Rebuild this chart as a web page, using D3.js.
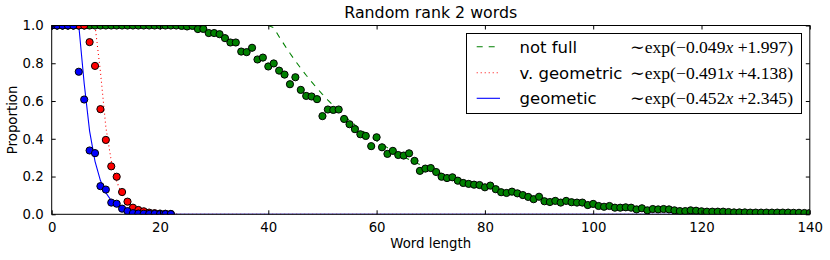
<!DOCTYPE html>
<html><head><meta charset="utf-8">
<script src="https://cdn.jsdelivr.net/npm/d3@7"></script>
<style>body{margin:0;background:#fff}svg{display:block}</style>
</head><body>
<svg id="chart" width="830" height="260"></svg>
<script>
// ---------- data ----------
const titleText = "Random rank 2 words";
const xLabelText = "Word length";
const yLabelText = "Proportion";
const xTicks = [0, 20, 40, 60, 80, 100, 120, 140];
const yTicks = [0.0, 0.2, 0.4, 0.6, 0.8, 1.0];

const seriesNames = ["not full", "v. geometric", "geometic"];
const seriesColors = ["#008000", "#ff0000", "#0000ff"];
const fitSlopes = [-0.049, -0.491, -0.452];
const fitIntercepts = [1.997, 4.138, 2.345];
const fitSlopeText = ["0.049", "0.491", "0.452"];
const fitInterceptText = ["1.997", "4.138", "2.345"];

// not full (green), word lengths 0..140
const greenLengths = d3.range(0, 141);
const greenValues = [
  1,1,1,1,1,1,1,1,1,1,1,1,1,1,1,1,1,1,1,1,1,1,1,1,
  0.998,0.995,0.998,0.981,0.982,0.960,0.960,0.954,0.933,0.910,
  0.910,0.862,0.859,0.882,0.820,0.830,0.783,0.799,0.761,0.740,
  0.689,0.726,0.659,0.627,0.624,0.610,0.520,0.555,0.553,0.555,
  0.505,0.477,0.451,0.424,0.415,0.361,0.408,0.355,0.320,0.336,
  0.314,0.311,0.323,0.283,0.230,0.242,0.245,0.224,0.199,0.192,
  0.196,0.178,0.166,0.161,0.157,0.155,0.143,0.152,0.133,0.117,
  0.113,0.120,0.111,0.102,0.092,0.080,0.093,0.069,0.065,0.071,
  0.062,0.071,0.064,0.062,0.062,0.049,0.055,0.044,0.040,0.044,
  0.035,0.035,0.037,0.035,0.026,0.032,0.021,0.028,0.026,0.028,
  0.026,0.021,0.017,0.017,0.021,0.019,0.016,0.014,0.014,0.014,
  0.014,0.012,0.010,0.010,0.010,0.009,0.009,0.009,0.009,0.009,
  0.009,0.009,0.009,0.008,0.008,0.007,0.007
];
// v. geometric (red), word lengths 0..22
const redLengths = d3.range(0, 23);
const redValues = [1,1,1,1,1,1,1,0.912,0.786,0.557,0.394,0.254,0.199,0.118,0.067,
  0.035,0.023,0.016,0.009,0.006,0.004,0.003,0.002];
// geometic (blue), word lengths 0..22
const blueLengths = d3.range(0, 23);
const blueValues = [1,1,1,1,1,0.755,0.608,0.338,0.324,0.149,0.131,0.062,0.056,0.030,
  0.017,0.006,0.004,0.003,0.002,0.002,0.001,0.001,0.001];
const fitLengths = d3.range(0, 141);

// ---------- layout ----------
const svg = d3.select("#chart");
const L = 51.7, R = 809.8, T = 25.5, B = 214.3;
const x = d3.scaleLinear().domain([0, 140]).range([L, R]);
const y = d3.scaleLinear().domain([0, 1]).range([B, T]);
const font = "'DejaVu Sans', sans-serif";

svg.append("defs").append("clipPath").attr("id", "clip")
  .append("rect").attr("x", L).attr("y", T).attr("width", R - L).attr("height", B - T);

const plot = svg.append("g").attr("clip-path", "url(#clip)");

// fit curves
const dashes = ["6,6", "1,3", null];
const line = d3.line().x(d => x(d[0])).y(d => y(d[1]));
seriesNames.forEach((n, i) => {
  const pts = fitLengths.map(v => [v, Math.min(1, Math.exp(fitSlopes[i] * v + fitIntercepts[i]))]);
  plot.append("path").attr("d", line(pts)).attr("fill", "none")
    .attr("stroke", seriesColors[i]).attr("stroke-width", 1.1)
    .attr("stroke-dasharray", dashes[i]);
});

// points
const sets = [[greenLengths, greenValues], [redLengths, redValues], [blueLengths, blueValues]];
sets.forEach((s, i) => {
  plot.append("g").selectAll("circle").data(s[0].map((v, j) => [v, s[1][j]]))
    .join("circle").attr("cx", d => x(d[0])).attr("cy", d => y(d[1])).attr("r", 3.6)
    .attr("fill", seriesColors[i]).attr("stroke", "#000").attr("stroke-width", 1);
});

// axes (ticks inside, all four sides)
const tl = 4;
const axB = svg.append("g").attr("transform", `translate(0,${B})`)
  .call(d3.axisBottom(x).tickValues(xTicks).tickSizeInner(-tl).tickSizeOuter(0).tickPadding(8).tickFormat(d3.format("d")));
const axT = svg.append("g").attr("transform", `translate(0,${T})`)
  .call(d3.axisTop(x).tickValues(xTicks).tickSizeInner(-tl).tickSizeOuter(0).tickFormat(""));
const axL = svg.append("g").attr("transform", `translate(${L},0)`)
  .call(d3.axisLeft(y).tickValues(yTicks).tickSizeInner(-tl).tickSizeOuter(0).tickPadding(8).tickFormat(d3.format(".1f")));
const axR = svg.append("g").attr("transform", `translate(${R},0)`)
  .call(d3.axisRight(y).tickValues(yTicks).tickSizeInner(-tl).tickSizeOuter(0).tickFormat(""));
[axB, axT, axL, axR].forEach(a => {
  a.select(".domain").remove();
  a.selectAll("line").attr("stroke", "#000");
  a.selectAll("text").attr("font-family", font).attr("font-size", 13.3).attr("fill", "#000");
});
axB.selectAll("text").attr("dy", "0.71em");

// frame
svg.append("rect").attr("x", L).attr("y", T).attr("width", R - L).attr("height", B - T)
  .attr("fill", "none").attr("stroke", "#000").attr("stroke-width", 1);

// title and labels
svg.append("text").attr("x", (L + R) / 2).attr("y", 18).attr("text-anchor", "middle")
  .attr("font-family", font).attr("font-size", 15.8).text(titleText);
svg.append("text").attr("x", (L + R) / 2).attr("y", 248).attr("text-anchor", "middle")
  .attr("font-family", font).attr("font-size", 13.3).text(xLabelText);
svg.append("text").attr("transform", `translate(17,${(T + B) / 2}) rotate(-90)`).attr("text-anchor", "middle")
  .attr("font-family", font).attr("font-size", 13.3).text(yLabelText);

// legend
const lg = svg.append("g");
lg.append("rect").attr("x", 466.5).attr("y", 33.5).attr("width", 335).attr("height", 80)
  .attr("fill", "#fff").attr("stroke", "#000").attr("stroke-width", 1);
const rowY = [46.7, 72.7, 98.3];
seriesNames.forEach((n, i) => {
  lg.append("line").attr("x1", 476.7).attr("x2", 500).attr("y1", rowY[i]).attr("y2", rowY[i])
    .attr("stroke", seriesColors[i]).attr("stroke-width", 1.1).attr("stroke-dasharray", dashes[i]);
  lg.append("text").attr("x", 519.5).attr("y", rowY[i] + 6).attr("font-family", font)
    .attr("font-size", 16.5).text(n);
  const t = lg.append("text").attr("x", 630).attr("y", rowY[i] + 6)
    .attr("font-family", "'Liberation Serif', 'DejaVu Serif', serif").attr("font-size", 17)
    .attr("textLength", 163).attr("lengthAdjust", "spacingAndGlyphs");
  t.append("tspan").text("\u223Cexp(\u2212" + fitSlopeText[i]);
  t.append("tspan").attr("font-style", "italic").text("x");
  t.append("tspan").text(" +" + fitInterceptText[i] + ")");
});
</script>
</body></html>
